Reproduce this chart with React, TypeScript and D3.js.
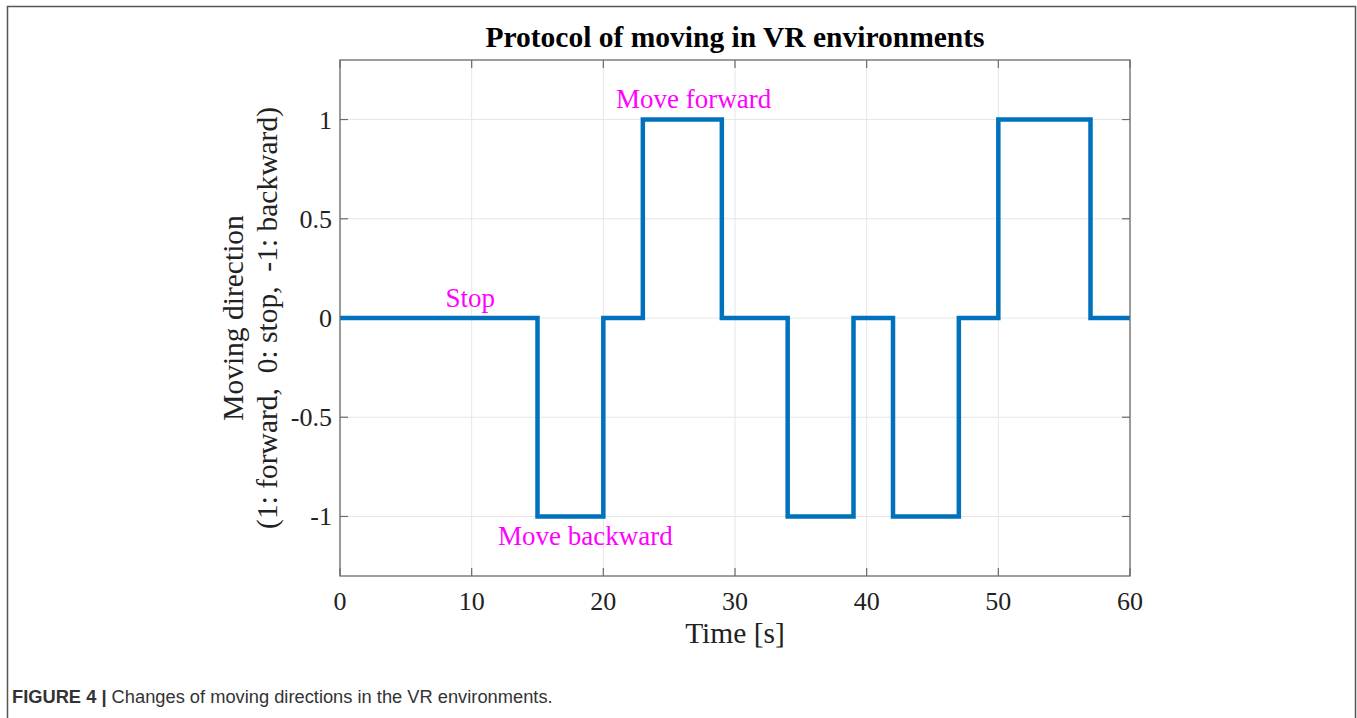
import React from "react";
import * as d3 from "d3";

const stepTimes = [0, 15, 20, 23, 29, 34, 39, 42, 47, 50, 57, 60];
const stepValues = [0, -1, 0, 1, 0, -1, 0, -1, 0, 1, 0, 0];
const xTicks = [0, 10, 20, 30, 40, 50, 60];
const yTicks = [-1, -0.5, 0, 0.5, 1];
const yTickLabels = ["-1", "-0.5", "0", "0.5", "1"];
const annotations = [
  { text: "Stop", t: 9.9, v: 0, dy: -11, anchor: "middle" },
  { text: "Move forward", t: 20.96, v: 1, dy: -12, anchor: "start" },
  { text: "Move backward", t: 12.0, v: -1, dy: 29, anchor: "start" },
];

const W = 1357, H = 718;
const L = 340, R = 1130, T = 60, B = 576;
const serif = "'Liberation Serif', 'Times New Roman', serif";
const nb = "\u00A0";

export default function App() {
  const x = d3.scaleLinear().domain([0, 60]).range([L, R]);
  const y = d3.scaleLinear().domain([-1.3, 1.3]).range([B, T]);
  const pts: [number, number][] = stepTimes.map((t, i) => [t, stepValues[i]]);
  const line = d3.line<[number, number]>().x(d => x(d[0])).y(d => y(d[1])).curve(d3.curveStepAfter);
  const tick = 8;
  const axisColor = "#6b6b6b";
  return (
    <svg width={W} height={H} style={{ position: "absolute", left: 0, top: 0, background: "#fff" }}>
      <rect x={7.5} y={6.5} width={1348} height={730} fill="none" stroke="#555" strokeWidth={1.5} />
      {xTicks.map(t => (
        <line key={"gx" + t} x1={x(t)} x2={x(t)} y1={T} y2={B} stroke="#e6e6e6" strokeWidth={1} />
      ))}
      {yTicks.map(v => (
        <line key={"gy" + v} x1={L} x2={R} y1={y(v)} y2={y(v)} stroke="#e6e6e6" strokeWidth={1} />
      ))}
      {xTicks.map(t => (
        <g key={"tx" + t}>
          <line x1={x(t)} x2={x(t)} y1={B} y2={B - tick} stroke={axisColor} strokeWidth={1.2} />
          <line x1={x(t)} x2={x(t)} y1={T} y2={T + tick} stroke={axisColor} strokeWidth={1.2} />
          <text x={x(t)} y={610} textAnchor="middle" fontFamily={serif} fontSize={26} fill="#222">{t}</text>
        </g>
      ))}
      {yTicks.map((v, i) => (
        <g key={"ty" + v}>
          <line x1={L} x2={L + tick} y1={y(v)} y2={y(v)} stroke={axisColor} strokeWidth={1.2} />
          <line x1={R} x2={R - tick} y1={y(v)} y2={y(v)} stroke={axisColor} strokeWidth={1.2} />
          <text x={L - 8} y={y(v) + 9} textAnchor="end" fontFamily={serif} fontSize={26} fill="#222">{yTickLabels[i]}</text>
        </g>
      ))}
      <path d={line(pts) || ""} fill="none" stroke="#0072BD" strokeWidth={4.5} strokeLinejoin="miter" />
      <rect x={L} y={T} width={R - L} height={B - T} fill="none" stroke={axisColor} strokeWidth={1.3} />
      {annotations.map(a => (
        <text key={a.text} x={x(a.t)} y={y(a.v) + a.dy} textAnchor={a.anchor as any} fontFamily={serif} fontSize={27} fill="#ff00ff">{a.text}</text>
      ))}
      <text x={(L + R) / 2} y={47} textAnchor="middle" fontFamily={serif} fontWeight="bold" fontSize={29.5} fill="#000">Protocol of moving in VR environments</text>
      <text x={(L + R) / 2} y={643} textAnchor="middle" fontFamily={serif} fontSize={29.5} fill="#222">Time [s]</text>
      <g transform={`translate(243, ${y(0)}) rotate(-90)`}>
        <text x={0} y={0} textAnchor="middle" fontFamily={serif} fontSize={29.5} fill="#222">Moving direction</text>
        <text x={0} y={34} textAnchor="middle" fontFamily={serif} fontSize={29.5} fill="#222">{`(1: forward,${nb} 0: stop,${nb} -1: backward)`}</text>
      </g>
      <text x={12} y={703} fontFamily="'Liberation Sans', Arial, sans-serif" fontSize={18.3} fill="#333">
        <tspan fontWeight="bold">FIGURE 4 | </tspan>Changes of moving directions in the VR environments.
      </text>
    </svg>
  );
}
